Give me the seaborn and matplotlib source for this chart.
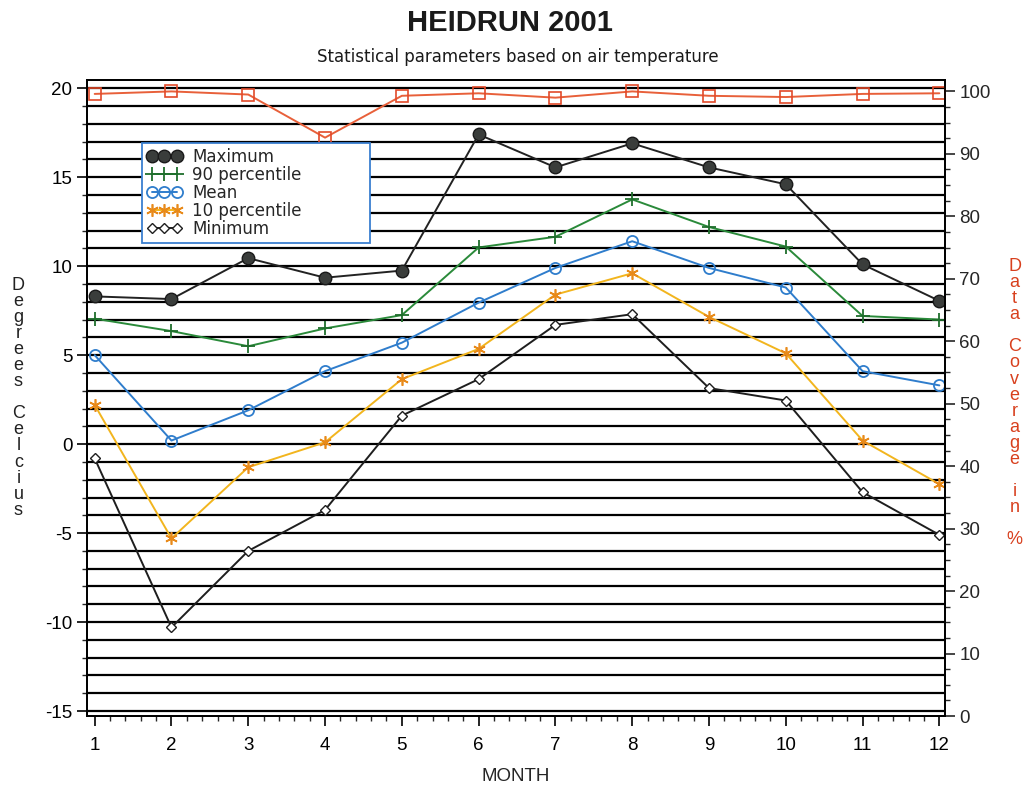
import numpy as np
import pandas as pd
import seaborn as sns
import matplotlib.pyplot as plt
from matplotlib.ticker import MultipleLocator

# =============================================================================
# Data
# =============================================================================

months = list(range(1, 13))

maximum = [8.3, 8.15, 10.45, 9.35, 9.75, 17.4, 15.55, 16.9, 15.55, 14.6, 10.1, 8.05]
pct90 = [7.05, 6.35, 5.5, 6.5, 7.25, 11.05, 11.65, 13.75, 12.2, 11.1, 7.2, 7.0]
mean = [5.0, 0.2, 1.9, 4.1, 5.7, 7.95, 9.9, 11.4, 9.9, 8.8, 4.1, 3.3]
pct10 = [2.2, -5.3, -1.3, 0.1, 3.65, 5.35, 8.4, 9.6, 7.15, 5.1, 0.2, -2.25]
minimum = [-0.8, -10.3, -6.0, -3.7, 1.6, 3.65, 6.7, 7.3, 3.15, 2.45, -2.7, -5.1]

coverage = [99.6, 100.0, 99.5, 92.6, 99.3, 99.7, 99.0, 100.0, 99.3, 99.1, 99.6, 99.7]

series_names = ["Maximum", "90 percentile", "Mean", "10 percentile", "Minimum"]

# =============================================================================
# Style
# =============================================================================

sns.set_style("ticks")
plt.rcParams["font.family"] = ["Liberation Sans", "DejaVu Sans"]
plt.rcParams["axes.unicode_minus"] = False

fig = plt.figure(figsize=(10.26, 7.86), dpi=100)
ax = fig.add_axes([0.0848, 0.089, 0.836, 0.809])
ax2 = ax.twinx()

styles = {
    "Maximum": dict(color="#222222", marker="o", ms=9, mfc="#3a3d3b", mec="#1a1a1a"),
    "90 percentile": dict(color="#2a8a3a", marker="+", ms=10, mfc="none", mec="#1f6e2c", mew=1.3),
    "Mean": dict(color="#2f7dcc", marker="o", ms=8, mfc="none", mec="#2f7dcc", mew=1.3),
    "10 percentile": dict(color="#f2b51e", marker=(6, 2, 0), ms=9, mfc="none", mec="#e88a1a", mew=1.2),
    "Minimum": dict(color="#1e1e1e", marker="D", ms=5, mfc="white", mec="#1e1e1e", mew=1.0),
}

values = [maximum, pct90, mean, pct10, minimum]

handles = []
for name, vals in zip(series_names, values):
    st = styles[name]
    sns.lineplot(
        x=months,
        y=vals,
        color=st["color"],
        linewidth=1.4,
        marker=st["marker"],
        markersize=st["ms"],
        markerfacecolor=st["mfc"],
        markeredgecolor=st["mec"],
        markeredgewidth=st.get("mew", 1.0),
        ax=ax,
        label=name,
        legend=False,
    )
    handles.append(ax.lines[-1])

sns.lineplot(
    x=months,
    y=coverage,
    color="#e8603a",
    linewidth=1.4,
    marker="s",
    markersize=8,
    markerfacecolor="none",
    markeredgecolor="#e24a2a",
    markeredgewidth=1.2,
    ax=ax2,
    legend=False,
)

# =============================================================================
# Axes
# =============================================================================

ax.set_xlim(0.9, 12.07)
ax.set_ylim(-15.28, 20.45)
ax2.set_ylim(0, 101.8)

ax.xaxis.set_major_locator(MultipleLocator(1))
ax.xaxis.set_minor_locator(MultipleLocator(0.2))
ax.yaxis.set_major_locator(MultipleLocator(5))
ax.yaxis.set_minor_locator(MultipleLocator(1))
ax2.yaxis.set_major_locator(MultipleLocator(10))
ax2.yaxis.set_minor_locator(MultipleLocator(2.5))

ax.set_axisbelow(True)
ax.grid(which="both", axis="y", color="black", linewidth=1.6)
ax.grid(which="both", axis="x", visible=False)

for a in (ax, ax2):
    for spine in a.spines.values():
        spine.set_color("black")
        spine.set_linewidth(1.3)

ax.tick_params(which="major", direction="out", length=7, width=1.2, labelsize=13.5, colors="black")
ax.tick_params(which="minor", direction="out", length=3.5, width=1.0)
ax2.tick_params(which="major", direction="out", length=7, width=1.2, labelsize=13.5)
ax2.tick_params(which="minor", direction="out", length=3.5, width=1.0)
ax.tick_params(axis="x", pad=8)
ax2.set_ylabel("")

ax.set_xlabel("MONTH", fontsize=13.5, labelpad=10)
ax.set_ylabel("")

# stacked vertical axis titles
fig.text(0.018, 0.494, "\n".join("Degrees Celcius"), ha="center", va="center",
         fontsize=13, linespacing=0.93, color="#222222")
fig.text(0.989, 0.487, "\n".join("Data Coverage in %"), ha="center", va="center",
         fontsize=13, linespacing=0.93, color="#d8401e")

fig.text(0.497, 0.971, "HEIDRUN 2001", ha="center", va="center",
         fontsize=21, fontweight="bold", color="#1a1a1a")
fig.text(0.505, 0.927, "Statistical parameters based on air temperature",
         ha="center", va="center", fontsize=12, family="DejaVu Sans", color="#1a1a1a")

leg = ax2.legend(
    handles=handles,
    labels=series_names,
    loc="upper left",
    bbox_to_anchor=(0.064, 0.901, 0.266, 0.0),
    mode="expand",
    borderaxespad=0,
    numpoints=3,
    handlelength=2.1,
    handletextpad=0.6,
    labelspacing=0.0,
    borderpad=0.3,
    prop={"family": "DejaVu Sans", "size": 12},
    fancybox=False,
    framealpha=1,
    edgecolor="#3a7fd0",
)
leg.get_frame().set_linewidth(1.3)
ax2.set_zorder(3)

plt.savefig("out.png", dpi=100)
